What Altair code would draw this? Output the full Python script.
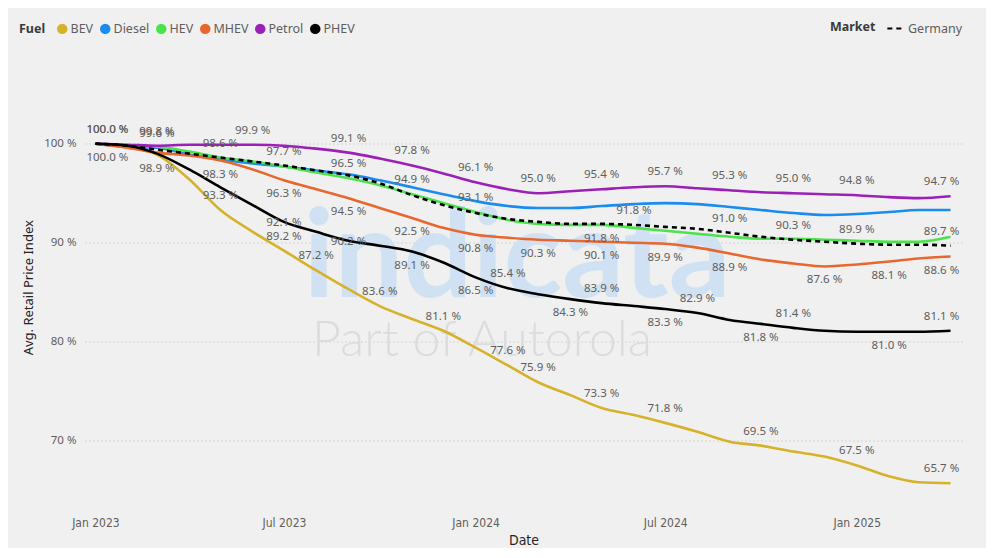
import altair as alt
import pandas as pd

# ---------------- data ----------------
months = pd.date_range("2023-01-01", periods=28, freq="MS")

fuels = ["BEV", "Diesel", "HEV", "MHEV", "Petrol", "PHEV"]
fuel_colors = ["#D6B22A", "#1A8CF0", "#4BE34B", "#E8672F", "#9C1FB8", "#000000"]

bev = [100.0, 99.6, 98.9, 96.4, 93.3, 91.1, 89.2, 87.2, 85.3, 83.6, 82.3, 81.1, 79.4, 77.6,
       75.9, 74.6, 73.3, 72.6, 71.8, 70.9, 69.9, 69.5, 68.9, 68.4, 67.5, 66.4, 65.8, 65.7]
diesel = [100.0, 99.7, 99.6, 98.9, 98.4, 98.0, 97.7, 97.3, 96.9, 96.3, 95.6, 94.9, 94.2, 93.7,
          93.5, 93.5, 93.7, 93.9, 94.0, 93.9, 93.6, 93.3, 93.0, 92.8, 92.9, 93.1, 93.3, 93.3]
hev = [100.0, 99.8, 99.7, 99.2, 98.6, 98.2, 97.7, 97.1, 96.5, 95.8, 94.9, 94.0, 93.1, 92.3,
       91.9, 91.8, 91.8, 91.5, 91.2, 90.9, 90.6, 90.4, 90.4, 90.3, 90.2, 90.1, 90.1, 90.6]
mhev = [100.0, 99.6, 99.1, 98.8, 98.3, 97.4, 96.3, 95.4, 94.5, 93.5, 92.5, 91.5, 90.8, 90.5,
        90.3, 90.2, 90.1, 90.0, 89.9, 89.5, 88.9, 88.3, 87.9, 87.6, 87.8, 88.1, 88.4, 88.6]
petrol = [100.0, 99.9, 99.8, 99.9, 99.9, 99.9, 99.8, 99.5, 99.1, 98.5, 97.8, 97.0, 96.1, 95.4,
          95.0, 95.2, 95.4, 95.6, 95.7, 95.5, 95.3, 95.1, 95.0, 94.9, 94.8, 94.6, 94.5, 94.7]
phev = [100.0, 99.8, 99.0, 97.4, 95.6, 93.8, 92.1, 91.1, 90.2, 89.7, 89.1, 88.0, 86.5, 85.4,
        84.8, 84.3, 83.9, 83.6, 83.3, 82.9, 82.2, 81.8, 81.4, 81.1, 81.0, 81.0, 81.0, 81.1]
germany = [100.0, 99.8, 99.4, 99.0, 98.6, 98.2, 97.8, 97.3, 96.8, 96.0, 94.8, 93.8, 93.0, 92.4,
           92.1, 91.9, 91.9, 91.8, 91.6, 91.4, 91.0, 90.6, 90.3, 90.1, 89.9, 89.8, 89.8, 89.7]

series = {"BEV": bev, "Diesel": diesel, "HEV": hev, "MHEV": mhev, "Petrol": petrol, "PHEV": phev}

# month indices (0 = Jan 2023) that carry a data label, placed above / below / on the point
labels_above = {
    "BEV": [4, 6, 7, 9, 11, 13, 14, 16, 18, 21, 24, 27],
    "Diesel": [2],
    "HEV": [4, 6, 8, 10, 12],
    "MHEV": [],
    "Petrol": [0, 2, 5, 8, 10, 12, 14, 16, 18, 20, 22, 24, 27],
    "PHEV": [0, 13, 16, 19, 22, 27],
    "Germany": [17, 20, 22, 24, 27],
}
labels_below = {
    "BEV": [0, 2],
    "Diesel": [],
    "HEV": [16],
    "MHEV": [4, 6, 8, 10, 12, 14, 16, 18, 20, 23, 25, 27],
    "Petrol": [],
    "PHEV": [10, 12, 15, 18, 21, 25],
    "Germany": [],
}
labels_on = {"PHEV": [6, 8]}

rows = []
for f, vals in series.items():
    for i, (d, v) in enumerate(zip(months, vals)):
        rows.append({"Date": d, "Fuel": f, "Value": v, "idx": i})
df = pd.DataFrame(rows)
df_de = pd.DataFrame({"Date": months, "Market": "Germany", "Value": germany,
                      "idx": range(len(months))})

lab_rows = []
all_series = dict(series, Germany=germany)
for name, vals in all_series.items():
    for pos, table in (("above", labels_above), ("below", labels_below), ("on", labels_on)):
        for i in table.get(name, []):
            lab_rows.append({"Date": months[i], "Value": vals[i], "Pos": pos, "idx": i,
                             "Label": f"{vals[i]:.1f} %"})
df_lab = pd.DataFrame(lab_rows)
last_idx = len(months) - 1

# ---------------- styling ----------------
BG = "#F0F0F0"
GRAY = "#605E5C"
FONT = "Noto Sans"
NARROW = "'Liberation Sans Narrow', 'DejaVu Sans Condensed', 'Roboto', sans-serif"

x_scale = alt.Scale(domain=[alt.DateTime(year=2022, month=12, date=22),
                            alt.DateTime(year=2025, month=4, date=12)])
y_scale = alt.Scale(domain=[63, 108], nice=False, zero=False)

x_enc = alt.X("Date:T", scale=x_scale,
              axis=alt.Axis(title="Date", format="%b %Y",
                            values=[alt.DateTime(year=2023, month=1, date=1),
                                    alt.DateTime(year=2023, month=7, date=1),
                                    alt.DateTime(year=2024, month=1, date=1),
                                    alt.DateTime(year=2024, month=7, date=1),
                                    alt.DateTime(year=2025, month=1, date=1)],
                            grid=False, domain=False, ticks=False,
                            labelFont=NARROW, labelFontSize=12, labelColor=GRAY,
                            labelPadding=7, titleFont=NARROW, titleFontSize=14,
                            titleColor="#252423", titleFontWeight="normal", titlePadding=5))
y_enc = alt.Y("Value:Q", scale=y_scale,
              axis=alt.Axis(title="Avg. Retail Price Index", values=[70, 80, 90, 100],
                            labelExpr="datum.value + ' %'", grid=True,
                            gridDash=[1, 3], gridColor="#B8B8B8", gridWidth=1,
                            domain=False, ticks=False, labelFont=FONT, labelFontSize=11.5,
                            labelColor=GRAY, labelPadding=9, titleFont=FONT,
                            titleFontSize=13, titleColor="#252423",
                            titleFontWeight="normal", titlePadding=8))

fuel_legend = alt.Legend(title="Fuel", orient="none", legendX=-66, legendY=-42,
                         direction="horizontal", titleOrient="left",
                         symbolType="circle", symbolSize=110, symbolOpacity=1,
                         symbolStrokeWidth=0, labelFont=FONT, labelFontSize=12.5,
                         labelColor=GRAY, titleFont=FONT, titleFontSize=12.5,
                         titleColor="#3A3A3A", titleFontWeight="bold",
                         titlePadding=10, columnPadding=5, labelOffset=2)
fuel_scale = alt.Scale(domain=fuels, range=fuel_colors)

base = alt.Chart(df)

wm1 = alt.Chart(pd.DataFrame({"t": ["indicata"]})).mark_text(
    font="Lato", fontWeight="bold", fontSize=122, color="#D0E1F3", align="center",
    baseline="alphabetic").encode(text="t:N", x=alt.value(432), y=alt.value(232))
wm2 = alt.Chart(pd.DataFrame({"t": ["Part of Autorola"]})).mark_text(
    font="Lato", fontWeight=300, fontSize=50, color="#DCDCDC", align="center",
    baseline="alphabetic").encode(text="t:N", x=alt.value(397), y=alt.value(291))

lines = base.mark_line(interpolate="monotone", strokeWidth=2.6).encode(
    x=x_enc, y=y_enc,
    stroke=alt.Stroke("Fuel:N", scale=fuel_scale, legend=fuel_legend),
    order="idx:Q")

legend_pts = base.transform_filter("datum.idx < 0").mark_circle(size=100, opacity=1).encode(
    x="Date:T", y="Value:Q",
    fill=alt.Fill("Fuel:N", scale=fuel_scale, legend=fuel_legend))

de_line = alt.Chart(df_de).mark_line(interpolate="monotone", strokeWidth=2.6,
                                     color="black").encode(
    x="Date:T", y="Value:Q", order="idx:Q",
    strokeDash=alt.StrokeDash("Market:N", scale=alt.Scale(domain=["Germany"], range=[[5, 4]]),
                              legend=alt.Legend(title="Market", orient="none", legendX=745,
                                                legendY=-46, direction="horizontal",
                                                titleOrient="left", symbolType="stroke",
                                                symbolStrokeColor="black", symbolStrokeWidth=2,
                                                symbolSize=300, labelFont=FONT,
                                                labelFontSize=12.5, labelColor=GRAY,
                                                titleFont=FONT, titleFontSize=12.5,
                                                titleColor="#3A3A3A", titleFontWeight="bold",
                                                titlePadding=10, labelOffset=2)))

lab = alt.Chart(df_lab)


# labels are kept inside the plot near its left and right edges
def label_layers(pos, dy):
    out = []
    for cond, dx in (("datum.idx == 0", 12), (f"datum.idx == {last_idx}", -9),
                     (f"datum.idx > 0 && datum.idx < {last_idx}", 0)):
        out.append(lab.transform_filter(alt.datum.Pos == pos).transform_filter(cond).mark_text(
            font=FONT, fontSize=11.5, color=GRAY, dy=dy, dx=dx, baseline="middle").encode(
            x="Date:T", y="Value:Q", text="Label:N"))
    return out


chart = alt.layer(wm1, wm2, lines, de_line, legend_pts,
                  *label_layers("above", -14), *label_layers("below", 14),
                  *label_layers("on", 1)).properties(
    width=877, height=445.5, background=BG,
    autosize=alt.AutoSizeParams(type="none"),
    padding={"left": 77, "top": 56.5, "right": 24, "bottom": 38},
).configure_view(stroke=None)

chart.save("out.html", embed_options={"renderer": "svg", "actions": False})
